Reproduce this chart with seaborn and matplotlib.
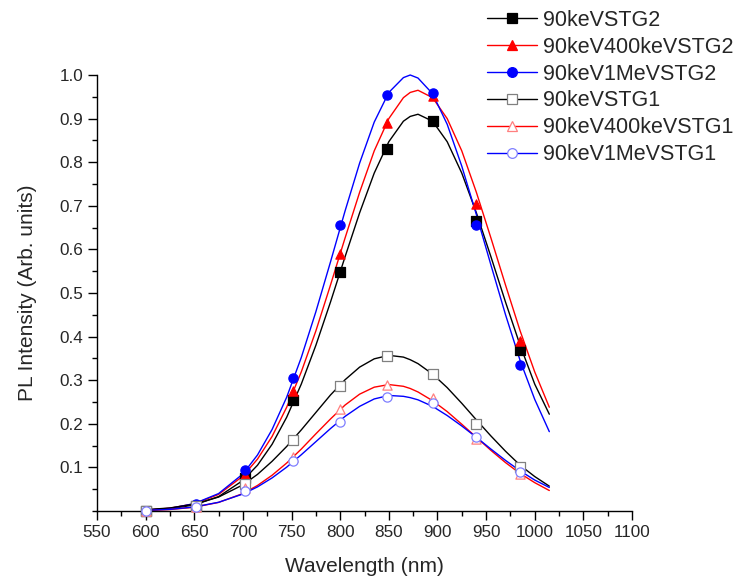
import numpy as np
import pandas as pd
import matplotlib
matplotlib.use("Agg")
import matplotlib.pyplot as plt
from matplotlib.lines import Line2D
from matplotlib.ticker import MultipleLocator
import seaborn as sns

# ---- measured points ----
wavelength = [600, 652, 702, 752, 800, 848, 895, 940, 985]
stg2_90 = [0.0, 0.012, 0.075, 0.255, 0.548, 0.830, 0.895, 0.665, 0.370]
stg2_400 = [0.0, 0.012, 0.083, 0.275, 0.590, 0.890, 0.952, 0.705, 0.390]
stg2_1m = [0.0, 0.015, 0.095, 0.305, 0.655, 0.955, 0.958, 0.655, 0.335]
stg1_90 = [0.0, 0.012, 0.062, 0.163, 0.287, 0.355, 0.315, 0.200, 0.100]
stg1_400 = [0.0, 0.010, 0.052, 0.125, 0.233, 0.290, 0.260, 0.165, 0.085]
stg1_1m = [0.0, 0.010, 0.045, 0.115, 0.203, 0.262, 0.247, 0.170, 0.090]

# ---- fitted curves ----
curve_x = [600, 625, 650, 675, 700, 715, 730, 745, 760, 775, 790, 805, 820,
           835, 850, 865, 872, 880, 895, 910, 925, 940, 955, 970, 985, 1000, 1015]
fit_stg2_90 = [0.002, 0.005, 0.014, 0.033, 0.070, 0.105, 0.153, 0.215, 0.291,
               0.380, 0.479, 0.583, 0.684, 0.775, 0.847, 0.894, 0.905, 0.910,
               0.894, 0.847, 0.775, 0.684, 0.583, 0.479, 0.380, 0.291, 0.222]
fit_stg2_400 = [0.002, 0.0065, 0.0165, 0.038, 0.080, 0.119, 0.171, 0.238,
                0.319, 0.413, 0.518, 0.626, 0.731, 0.826, 0.900, 0.948, 0.960,
                0.965, 0.948, 0.900, 0.826, 0.731, 0.626, 0.518, 0.413, 0.319,
                0.238]
fit_stg2_1m = [0.002, 0.006, 0.017, 0.040, 0.085, 0.1285, 0.187, 0.261, 0.352,
               0.457, 0.571, 0.688, 0.798, 0.892, 0.960, 0.994, 1.000, 0.993,
               0.957, 0.887, 0.791, 0.680, 0.564, 0.450, 0.345, 0.256, 0.182]
fit_stg1_90 = [0.003, 0.007, 0.0155, 0.032, 0.060, 0.084, 0.114, 0.148, 0.186,
               0.226, 0.266, 0.301, 0.330, 0.349, 0.357, 0.353, 0.347, 0.338,
               0.314, 0.283, 0.247, 0.209, 0.172, 0.137, 0.105, 0.079, 0.057]
fit_stg1_400 = [0.001, 0.0034, 0.0087, 0.0197, 0.040, 0.0586, 0.082, 0.110,
                0.142, 0.177, 0.211, 0.243, 0.268, 0.284, 0.290, 0.286, 0.281,
                0.273, 0.253, 0.228, 0.199, 0.169, 0.139, 0.111, 0.086, 0.065,
                0.047]
fit_stg1_1m = [0.0015, 0.0038, 0.0092, 0.020, 0.039, 0.0553, 0.0759, 0.1006,
               0.129, 0.159, 0.189, 0.217, 0.240, 0.257, 0.265, 0.263, 0.260,
               0.255, 0.240, 0.219, 0.195, 0.169, 0.142, 0.116, 0.092, 0.071,
               0.054]

labels = ["90keVSTG2", "90keV400keVSTG2", "90keV1MeVSTG2",
          "90keVSTG1", "90keV400keVSTG1", "90keV1MeVSTG1"]
points = [stg2_90, stg2_400, stg2_1m, stg1_90, stg1_400, stg1_1m]
fits = [fit_stg2_90, fit_stg2_400, fit_stg2_1m, fit_stg1_90, fit_stg1_400, fit_stg1_1m]

line_colors = ["#000000", "#ff0000", "#0000ff", "#000000", "#ff0000", "#0000ff"]
markers = ["s", "^", "o", "s", "^", "o"]
face_colors = ["#000000", "#ff0000", "#0000ff", "#ffffff", "#ffffff", "#ffffff"]
edge_colors = ["#000000", "#ff0000", "#0000ff", "#808080", "#ff7f7f", "#7f7fff"]

sns.set_style("white")
plt.rcParams["font.family"] = ["Liberation Sans", "DejaVu Sans"]

fig = plt.figure(figsize=(7.39, 5.76), dpi=100)
ax = fig.add_axes([97 / 739, (576 - 511) / 576, (632 - 97) / 739, (511 - 75) / 576])

for lab, pts, fit, lc, mk, fc, ec in zip(labels, points, fits, line_colors,
                                         markers, face_colors, edge_colors):
    dfl = pd.DataFrame({"x": curve_x, "y": fit})
    sns.lineplot(data=dfl, x="x", y="y", ax=ax, color=lc, lw=1.0,
                 sort=False, estimator=None, legend=False, clip_on=False)
    dfp = pd.DataFrame({"x": wavelength, "y": pts})
    sns.scatterplot(data=dfp, x="x", y="y", ax=ax, marker=mk, s=44,
                    color=fc, edgecolor=ec, linewidth=0.9, legend=False,
                    zorder=5, clip_on=False)

ax.set_xlim(550, 1100)
ax.set_ylim(0, 1.0)
ax.xaxis.set_major_locator(MultipleLocator(50))
ax.xaxis.set_minor_locator(MultipleLocator(25))
ax.set_yticks([0.1, 0.2, 0.3, 0.4, 0.5, 0.6, 0.7, 0.8, 0.9, 1.0])
ax.set_yticklabels(["0.1", "0.2", "0.3", "0.4", "0.5", "0.6", "0.7", "0.8",
                    "0.9", "1.0"])
ax.yaxis.set_minor_locator(MultipleLocator(0.05))
ax.tick_params(which="major", direction="out", length=6.5, width=1,
               labelsize=12.3, color="black", bottom=True, left=True, pad=3.5)
ax.tick_params(which="minor", direction="out", length=3.3, width=1,
               color="black", bottom=True, left=True)
for s in ["top", "right"]:
    ax.spines[s].set_visible(False)
for s in ["left", "bottom"]:
    ax.spines[s].set_color("black")
    ax.spines[s].set_linewidth(1.0)

ax.set_xlabel("Wavelength (nm)", fontsize=15, labelpad=12)
ax.set_ylabel("PL Intensity (Arb. units)", fontsize=15, labelpad=16)

handles = [Line2D([0], [0], color=lc, lw=1.0, marker=mk, markersize=7,
                  markerfacecolor=fc, markeredgecolor=ec, markeredgewidth=0.9)
           for lc, mk, fc, ec in zip(line_colors, markers, face_colors, edge_colors)]
fig.legend(handles, labels, loc="upper left",
           bbox_to_anchor=(487 / 739, 1 - 10 / 576), frameon=False,
           fontsize=15.5, handlelength=2.3, handletextpad=0.3,
           labelspacing=0.27, borderpad=0, borderaxespad=0)

fig.savefig("out.png", dpi=100)
